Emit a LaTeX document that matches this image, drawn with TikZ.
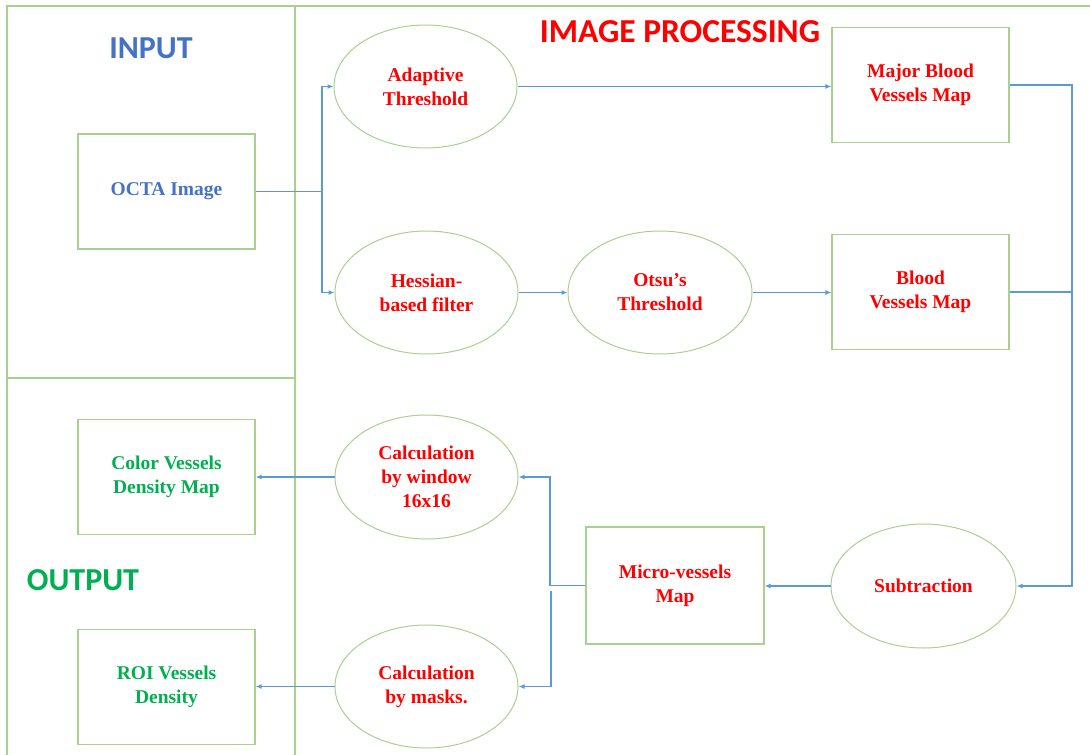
\documentclass[tikz,border=0pt]{standalone}
\usepackage{fontspec}
\setmainfont{Liberation Serif}
\newfontfamily\calib{Carlito}
\usetikzlibrary{shapes.geometric,arrows.meta}
\definecolor{tred}{HTML}{FF0000}
\definecolor{tblue}{HTML}{4472C4}
\definecolor{tgreen}{HTML}{00B050}
\definecolor{lblue}{HTML}{5B9BD5}
\definecolor{bgreen}{HTML}{A9D18E}
\begin{document}
\begin{tikzpicture}[x=1pt,y=-1pt,
  frameline/.style={draw=bgreen,line width=1.3pt},
  boxnode/.style={draw=bgreen,line width=1.1pt,rectangle,minimum width=177pt,minimum height=115pt,inner sep=0pt,align=center,font=\bfseries\fontsize{19.5}{24}\selectfont},
  ellnode/.style={draw=bgreen,line width=1pt,ellipse,minimum width=183pt,minimum height=123pt,inner sep=0pt,align=center,font=\bfseries\fontsize{19.5}{24}\selectfont,text=tred},
  title/.style={font=\calib\bfseries\fontsize{32}{36}\selectfont},
  conn/.style={draw=lblue,line width=1.8pt},
  arr/.style={conn,-{Latex[length=6pt,width=5pt]}}]
\useasboundingbox (0,0) rectangle (1090,755);
% frame
\draw[frameline] (1090,6) -- (7,6) -- (7,755);
\draw[frameline] (295,6) -- (295,755);
\draw[frameline] (7,378) -- (295,378);
% titles
\node[title,text=tblue] (tin) at (151,48) {INPUT};
\node[title,text=tred,font=\calib\bfseries\fontsize{33.5}{36}\selectfont] (tip) at (680,32) {IMAGE PROCESSING};
\node[title,text=tgreen] (tout) at (83,580) {OUTPUT};
% boxes
\node[boxnode,text=tblue] (octa) at (166.5,191.5) {OCTA Image};
\node[boxnode,text=tgreen] (color) at (166.5,477) {Color Vessels\\Density Map};
\node[boxnode,text=tgreen] (roi) at (166.5,687) {ROI Vessels\\Density};
\node[boxnode,text=tred] (major) at (920.5,85) {Major Blood\\Vessels Map};
\node[boxnode,text=tred] (blood) at (920.5,292) {Blood\\Vessels Map};
\node[boxnode,text=tred,minimum width=178pt,minimum height=117pt] (micro) at (675,585.5) {Micro-vessels\\Map};
% ellipses
\node[ellnode] (adapt) at (425.5,86.5) {Adaptive\\Threshold};
\node[ellnode] (hess) at (426.5,292.5) {Hessian-\\based filter};
\node[ellnode,minimum width=184pt] (otsu) at (660,292.5) {Otsu’s\\Threshold};
\node[ellnode,minimum height=124pt] (calcw) at (426.5,477) {Calculation\\by window\\16x16};
\node[ellnode] (calcm) at (426.5,686.5) {Calculation\\by masks.};
\node[ellnode,minimum width=185pt,minimum height=124pt] (sub) at (923.5,586) {Subtraction};
% connectors
\coordinate (j1) at (322,191.5);
\draw[conn] (octa.east) -- (j1);
\draw[arr] (j1) |- (adapt.west);
\draw[arr] (j1) |- (hess.west);
\draw[arr] (adapt.east) -- (adapt.east -| major.west);
\draw[arr] (hess.east) -- (otsu.west);
\draw[arr] (otsu.east) -- (otsu.east -| blood.west);
\coordinate (j2) at (1072,85);
\draw[arr] (major.east) -| (j2 |- sub.east) -- (sub.east);
\draw[conn] (blood.east) -- (blood.east -| j2);
\draw[arr] (sub.west) -- (sub.west -| micro.east);
\coordinate (j3) at (550,585.5);
\coordinate (j4) at (551,591);
\draw[arr] (micro.west) -- (j3) |- (calcw.east);
\draw[arr] (j4) |- (calcm.east);
\draw[arr] (calcw.west) -- (calcw.west -| color.east);
\draw[arr] (calcm.west) -- (calcm.west -| roi.east);
\end{tikzpicture}
\end{document}
